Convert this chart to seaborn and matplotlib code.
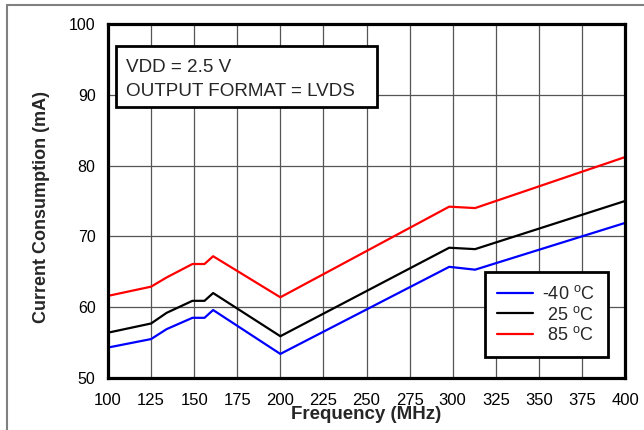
import matplotlib
matplotlib.use("Agg")
import matplotlib.pyplot as plt
import seaborn as sns
import pandas as pd
from matplotlib.lines import Line2D
from matplotlib.patches import Rectangle

# ---- data ----
freq_mhz = [100, 125, 134, 149, 156, 161, 200, 298, 313, 400]
current_m40 = [54.3, 55.5, 56.9, 58.5, 58.5, 59.6, 53.4, 65.7, 65.3, 71.9]
current_25 = [56.4, 57.7, 59.2, 60.9, 60.9, 62.0, 55.9, 68.4, 68.2, 75.0]
current_85 = [61.6, 62.9, 64.2, 66.1, 66.1, 67.2, 61.4, 74.2, 74.0, 81.2]
series_labels = ["-40 $^{o}$C", " 25 $^{o}$C", " 85 $^{o}$C"]
x_ticks = [100, 125, 150, 175, 200, 225, 250, 275, 300, 325, 350, 375, 400]
y_ticks = [50, 60, 70, 80, 90, 100]

sns.set_style("white")
plt.rcParams["font.family"] = ["Liberation Sans", "DejaVu Sans"]
plt.rcParams["mathtext.default"] = "regular"

rows = []
for lab, vals in zip(series_labels, [current_m40, current_25, current_85]):
    for f, v in zip(freq_mhz, vals):
        rows.append({"Frequency": f, "Current": v, "Temp": lab})
df = pd.DataFrame(rows)

fig = plt.figure(figsize=(6.44, 4.30), dpi=100)
ax = fig.add_axes([108/644, 52/430, 517/644, 354/430])

palette = {series_labels[0]: "#0000FF", series_labels[1]: "#000000", series_labels[2]: "#FF0000"}
sns.lineplot(data=df, x="Frequency", y="Current", hue="Temp", palette=palette,
             hue_order=series_labels, linewidth=1.6, ax=ax, sort=False, zorder=3)

ax.set_xlim(100, 400)
ax.set_ylim(50, 100)
ax.set_xticks(x_ticks)
ax.set_yticks(y_ticks)
ax.tick_params(axis="x", length=0, labelsize=12, pad=10.5, colors="black")
ax.tick_params(axis="y", length=0, labelsize=11.5, pad=9, colors="black")
ax.grid(True, color="#555555", linewidth=0.9)
ax.set_axisbelow(True)
for s in ax.spines.values():
    s.set_visible(True)
    s.set_color("black")
    s.set_linewidth(2.3)
    s.set_zorder(5)

ax.set_xlabel("Frequency (MHz)", fontsize=13.5, fontweight="bold", labelpad=-1)
ax.set_ylabel("Current Consumption (mA)", fontsize=13, fontweight="bold")
ax.yaxis.set_label_coords(-0.113, 0.483)

leg = ax.legend(loc="lower right", bbox_to_anchor=(0.967, 0.059), borderaxespad=0,
                fontsize=13, frameon=True, fancybox=False, edgecolor="black", framealpha=1,
                handlelength=2.0, handletextpad=0.5, borderpad=0.7, labelspacing=0.15,
                title=None)
leg.get_frame().set_linewidth(2.0)
leg.set_zorder(6)

# annotation box
rect = Rectangle((8/517, 271/354), 261/517, 61/354, transform=ax.transAxes,
                 facecolor="white", edgecolor="black", linewidth=2.0, zorder=6)
ax.add_patch(rect)
ax.text(18/517, (378-67)/354, "VDD = 2.5 V", transform=ax.transAxes, fontsize=13.6,
        va="center", ha="left", zorder=7)
ax.text(18/517, (378-92)/354, "OUTPUT FORMAT = LVDS", transform=ax.transAxes, fontsize=13.6,
        va="center", ha="left", zorder=7)

# partial figure frame
fig.add_artist(Line2D([6.5/644, 1.0], [1 - 5/430, 1 - 5/430], color="#808080", linewidth=1.5))
fig.add_artist(Line2D([6.5/644, 6.5/644], [0, 1 - 5/430], color="#808080", linewidth=1.5))

fig.savefig("out.png", dpi=100)
